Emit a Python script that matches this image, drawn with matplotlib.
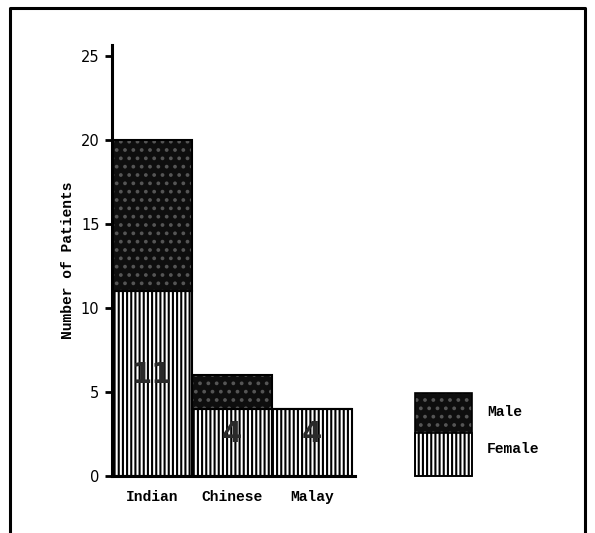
import matplotlib.pyplot as plt
from matplotlib.patches import Rectangle
from matplotlib.lines import Line2D

groups = ['Indian', 'Chinese', 'Malay']
female = [11, 4, 4]
male = [9, 2, 0]
y_ticks = [0, 5, 10, 15, 20, 25]

plt.rcParams['font.family'] = ['Liberation Mono', 'DejaVu Sans Mono']
plt.rcParams['hatch.linewidth'] = 1.5

fig = plt.figure(figsize=(5.95, 5.33), dpi=100)
ax = fig.add_axes([112 / 595, 57 / 533, 243 / 595, 431 / 533])

x = list(range(len(groups)))

# female: white with dense vertical lines
ax.bar(x, female, width=1, align='edge', color='white', edgecolor='black',
       hatch='||||', linewidth=1.5)
# male: dark speckled block on top
ax.bar(x, male, width=1, align='edge', bottom=female, color='#0e0e0e',
       edgecolor='#555555', hatch='..', linewidth=0)
ax.bar(x, male, width=1, align='edge', bottom=female, fill=False,
       edgecolor='black', linewidth=1.5)

for i, v in enumerate(female):
    ax.text(i + 0.5, v / 2 + 0.5, str(v), ha='center', va='center',
            fontsize=21, fontweight='bold', color='#2a2a2a',
            family='DejaVu Sans')

ax.set_xlim(0, 3.04)
ax.set_ylim(0, 25.65)
ax.set_yticks(y_ticks)
ax.set_xticks([i + 0.5 for i in x])
ax.set_xticklabels(groups, fontsize=10.5, fontweight='bold')
ax.tick_params(axis='x', length=0, pad=10)
ax.tick_params(axis='y', length=5, width=2, direction='out', labelsize=10.5, pad=4)
for lab in ax.get_yticklabels():
    lab.set_family('DejaVu Sans')
ax.set_ylabel('Number of Patients', fontsize=10.5, fontweight='bold', labelpad=4)

for s in ['top', 'right']:
    ax.spines[s].set_visible(False)
for s in ['left', 'bottom']:
    ax.spines[s].set_linewidth(2.2)

# legend drawn by hand
W, H = 595, 533
fig.patches.append(Rectangle((415 / W, (H - 433) / H), 57 / W, 40 / H,
                             transform=fig.transFigure, facecolor='#0e0e0e',
                             edgecolor='#555555', hatch='..', linewidth=0))
fig.patches.append(Rectangle((415 / W, (H - 476) / H), 57 / W, 43 / H,
                             transform=fig.transFigure, facecolor='white',
                             edgecolor='black', hatch='||||', linewidth=1.2))
fig.patches.append(Rectangle((415 / W, (H - 476) / H), 57 / W, 83 / H,
                             transform=fig.transFigure, fill=False,
                             edgecolor='black', linewidth=1.2))
fig.text(487 / W, (H - 412) / H, 'Male', fontsize=10.5, fontweight='bold', va='center')
fig.text(487 / W, (H - 449) / H, 'Female', fontsize=10.5, fontweight='bold', va='center')

# page frame
fig.lines.append(Line2D([10 / W, 10 / W, 585 / W, 585 / W],
                        [0, (H - 8) / H, (H - 8) / H, 0],
                        transform=fig.transFigure, color='black', linewidth=2.2))

fig.savefig('out.png', dpi=100)
